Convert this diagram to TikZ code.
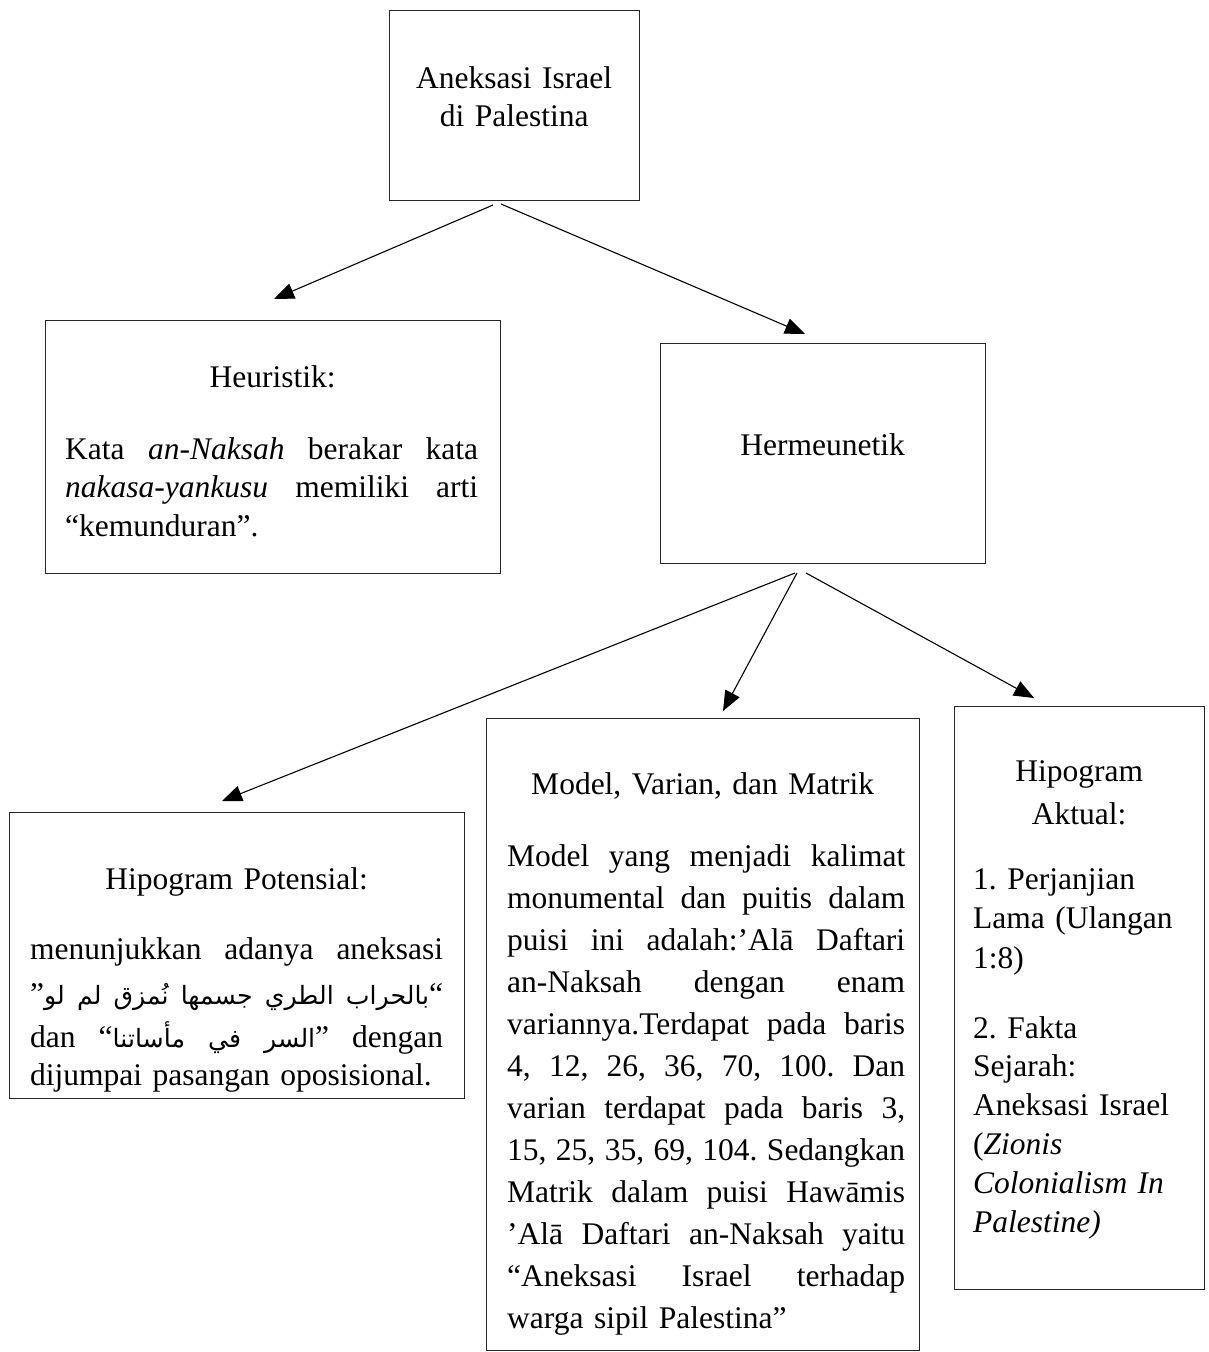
\documentclass[tikz,border=0pt]{standalone}
\usepackage{fontspec}
\setmainfont{Liberation Serif}
\newfontfamily\arabicfont[Script=Arabic,Scale=0.8]{DejaVu Sans}
\TeXXeTstate=1
\usetikzlibrary{arrows.meta}
\newcommand\AR[1]{{\arabicfont\beginR#1\endR}}
\newcommand\jline[2]{\noindent\hbox to #1{\spaceskip=.25em plus 1fil\xspaceskip=\spaceskip\relax#2}}
\frenchspacing
\begin{document}
\begin{tikzpicture}[x=1pt,y=-1pt,
  box/.style={draw=black!85,line width=1.3pt,inner sep=0pt,anchor=north west},
  txt/.style={inner sep=0pt,anchor=base west,align=left,font=\fontsize{31.5}{38.5}\selectfont},
  ctxt/.style={txt,align=center},
  arr/.style={line width=1.1pt,-{Triangle[length=20pt,width=16pt]}}]
\useasboundingbox[fill=white] (0,0) rectangle (1209,1352);
% boxes
\node[box,minimum width=250pt,minimum height=190pt] (top) at (389,10) {};
\node[box,minimum width=455pt,minimum height=253pt] (heur) at (45,320) {};
\node[box,minimum width=325pt,minimum height=220pt] (herm) at (660,343) {};
\node[box,minimum width=455pt,minimum height=286pt] (pot) at (9,812) {};
\node[box,minimum width=433pt,minimum height=632pt] (model) at (486,718) {};
\node[box,minimum width=250pt,minimum height=583pt] (akt) at (954,706) {};
% texts
\node[ctxt,text width=250pt] (ttop) at (389,88) {Aneksasi Israel\\di Palestina};
\node[ctxt,text width=455pt] (theurA) at (45,387) {Heuristik:};
\node[txt,text width=413pt] (theurB) at (65,459) {\jline{413pt}{Kata \emph{an-Naksah} berakar kata}\\\jline{413pt}{\emph{nakasa-yankusu} memiliki arti}\\“kemunduran”.};
\node[ctxt,text width=325pt] (therm) at (660,455) {Hermeunetik};
\node[ctxt,text width=455pt] (tpotA) at (9,889) {Hipogram Potensial:};
\node[txt,text width=413pt] (tpotB) at (30,959) {\jline{413pt}{menunjukkan adanya aneksasi}};
\node[txt,text width=413pt] (tpotC) at (30,1004) {\jline{413pt}{”\AR{لو} \AR{لم} \AR{نُمزق} \AR{جسمها} \AR{الطري} \AR{بالحراب}“}};
\node[txt,text width=413pt] (tpotD) at (30,1047) {\jline{413pt}{dan “\AR{مأساتنا} \AR{في} \AR{السر}” dengan}\\dijumpai pasangan oposisional.};
\node[ctxt,text width=433pt] (tmodA) at (486,794) {Model, Varian, dan Matrik};
\node[txt,text width=398pt,font=\fontsize{31.5}{42}\selectfont] (tmodB) at (507,866) {%
\jline{398pt}{Model yang menjadi kalimat}\\
\jline{398pt}{monumental dan puitis dalam}\\
\jline{398pt}{puisi ini adalah:’Alā Daftari}\\
\jline{398pt}{an-Naksah dengan enam}\\
\jline{398pt}{variannya.Terdapat pada baris}\\
\jline{398pt}{4, 12, 26, 36, 70, 100. Dan}\\
\jline{398pt}{varian terdapat pada baris 3,}\\
\jline{398pt}{15, 25, 35, 69, 104. Sedangkan}\\
\jline{398pt}{Matrik dalam puisi Hawāmis}\\
\jline{398pt}{’Alā Daftari an-Naksah yaitu}\\
\jline{398pt}{“Aneksasi Israel terhadap}\\
warga sipil Palestina”};
\node[ctxt,text width=250pt,font=\fontsize{31.5}{43}\selectfont] (taktA) at (954,781) {Hipogram\\Aktual:};
\node[txt,text width=215pt,font=\fontsize{31.5}{39.5}\selectfont] (taktB) at (973,889) {1. Perjanjian\\Lama (Ulangan\\1:8)};
\node[txt,text width=215pt,font=\fontsize{31.5}{38.8}\selectfont] (taktC) at (973,1038) {2. Fakta\\Sejarah:\\Aneksasi Israel\\(\emph{Zionis}\\\emph{Colonialism In}\\\emph{Palestine)}};
% connectors
\coordinate (s1) at (493,205); \coordinate (e1) at (274,299);
\coordinate (s2) at (501,204); \coordinate (e2) at (805,334);
\coordinate (s3) at (795,573); \coordinate (e3) at (222,801);
\coordinate (s4) at (797,573); \coordinate (e4) at (723,711);
\coordinate (s5) at (806,573); \coordinate (e5) at (1034,698);
\draw[arr] (s1) -- (e1);
\draw[arr] (s2) -- (e2);
\draw[arr] (s3) -- (e3);
\draw[arr] (s4) -- (e4);
\draw[arr] (s5) -- (e5);
\end{tikzpicture}
\end{document}
